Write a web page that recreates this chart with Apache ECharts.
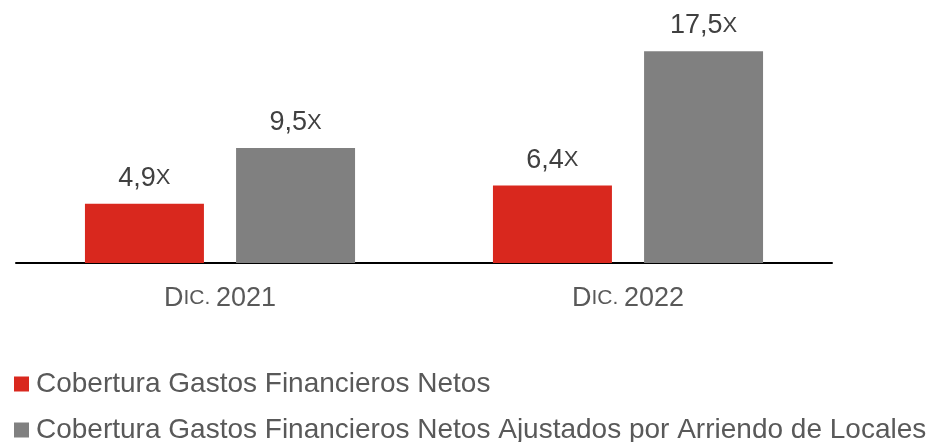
<!DOCTYPE html>
<html><head><meta charset="utf-8">
<script src="https://cdn.jsdelivr.net/npm/echarts@6/dist/echarts.min.js"></script>
<style>html,body{margin:0;padding:0;background:#fff}#c{width:930px;height:442px}</style>
</head><body><div id="c"></div>
<script>
var categories = ['DIC. 2021', 'DIC. 2022'];
var seriesNames = ['Cobertura Gastos Financieros Netos', 'Cobertura Gastos Financieros Netos Ajustados por Arriendo de Locales'];
var netos = [4.9, 6.4];
var ajustados = [9.5, 17.5];
var colors = ['#D9281E', '#808080'];
var FONT = 'Liberation Sans, Arial, sans-serif';

function labelFmt(p) {
  return '{n|' + p.value.toFixed(1).replace('.', ',') + '}{x|X}';
}
var labelCfg = {
  show: true, position: 'top', distance: 12, formatter: labelFmt,
  rich: {
    n: { fontSize: 27, color: '#404040', fontFamily: FONT },
    x: { fontSize: 22, color: '#404040', fontFamily: FONT }
  }
};
var chart = echarts.init(document.getElementById('c'));
chart.setOption({
  animation: false,
  grid: { left: 16, right: 98, top: 21, bottom: 179 },
  legend: {
    orient: 'vertical', left: 14, top: 370, height: 90, padding: 0, itemWidth: 15, itemHeight: 15, itemGap: 18,
    icon: 'rect',
    textStyle: { fontSize: 28, color: '#595959', fontFamily: FONT, padding: [0, 0, 0, 2] },
    data: seriesNames
  },
  xAxis: {
    type: 'category', data: categories,
    axisLine: { lineStyle: { color: '#000', width: 2 } },
    axisTick: { show: false },
    axisLabel: {
      margin: 22,
      formatter: function (v) { var parts = v.split(' '); return '{a|' + parts[0].charAt(0) + '}{b|' + parts[0].slice(1) + ' }{a|' + parts[1] + '}'; },
      rich: {
        a: { fontSize: 27, color: '#595959', fontFamily: FONT },
        b: { fontSize: 21, color: '#595959', fontFamily: FONT }
      }
    }
  },
  yAxis: { type: 'value', min: 0, max: 20, show: false, splitLine: { show: false } },
  series: [
    { name: seriesNames[0], type: 'bar', data: netos, itemStyle: { color: colors[0] }, barGap: '27%', barCategoryGap: '33.8%', label: labelCfg },
    { name: seriesNames[1], type: 'bar', data: ajustados, itemStyle: { color: colors[1] }, barGap: '27%', barCategoryGap: '33.8%', label: labelCfg }
  ]
});
</script></body></html>
